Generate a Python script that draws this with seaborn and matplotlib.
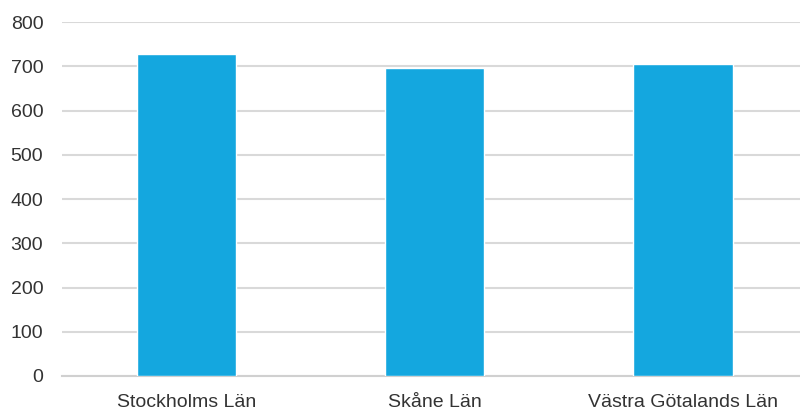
import matplotlib
matplotlib.use("Agg")
import matplotlib.pyplot as plt
import seaborn as sns
import pandas as pd

categories = ["Stockholms Län", "Skåne Län", "Västra Götalands Län"]
values = [727, 697, 704]
yticks = [0, 100, 200, 300, 400, 500, 600, 700, 800]

sns.set_theme(style="white")
plt.rcParams['font.family'] = ['Liberation Sans', 'DejaVu Sans']

df = pd.DataFrame({"lan": categories, "value": values})

fig = plt.figure(figsize=(8, 4.12), dpi=100)
ax = fig.add_axes([62/800, 36/412, 745/800, 354/412])
sns.barplot(data=df, x="lan", y="value", color="#14A7DF", width=0.4,
            saturation=1, ax=ax, zorder=3)
ax.set_xlim(-0.5, 2.5)
ax.set_ylim(0, 800)
ax.set_yticks(yticks)
ax.set_yticklabels([str(t) for t in yticks])
ax.yaxis.grid(True, color="#d9d9d9", linewidth=1.5, zorder=0)
ax.set_axisbelow(True)
for s in ["top", "right", "left"]:
    ax.spines[s].set_visible(False)
ax.spines["bottom"].set_color("#d0d0d0")
ax.spines["bottom"].set_linewidth(1.5)
ax.set_xlabel("")
ax.set_ylabel("")
ax.tick_params(axis="both", length=0, labelsize=14, colors="#333333")
ax.tick_params(axis="y", pad=13.5)
ax.tick_params(axis="x", pad=13)
fig.savefig("out.png", dpi=100)
